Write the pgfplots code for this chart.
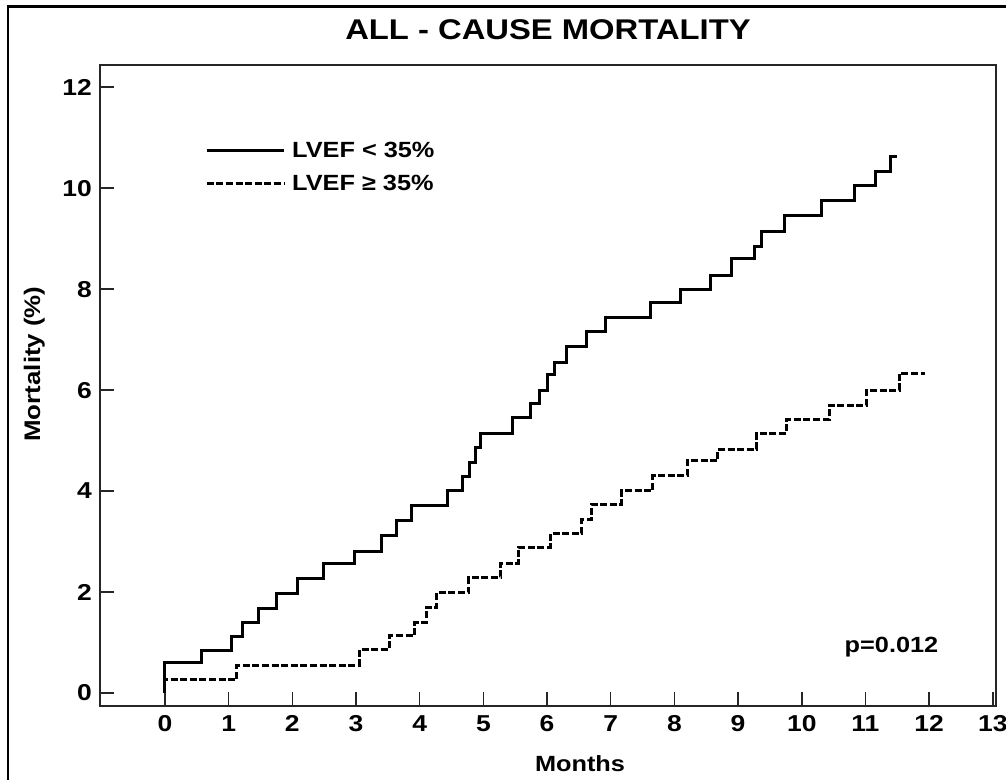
\documentclass[border=0pt]{standalone}
\usepackage{fontspec}
\setmainfont{Liberation Sans}[FakeStretch=1.15]
\usepackage{pgfplots}
\pgfplotsset{compat=1.18}
\begin{document}
\begin{tikzpicture}[x=1pt,y=1pt]
\path[use as bounding box] (0,0) rectangle (1006,779);
\draw[line width=2.7pt] (8,-10) -- (8,772.3) -- (1020,772.3);
\begin{axis}[
  at={(100pt,73pt)}, anchor=south west,
  scale only axis, width=896pt, height=641pt,
  xmin=-1.02, xmax=13.05, ymin=-0.257, ymax=12.44,
  xtick={0,1,...,13}, ytick={0,2,...,12},
  tick align=inside, tick pos=left,
  major tick length=14pt,
  axis line style={line width=1.5pt, black!85},
  every tick/.append style={line width=1.5pt, black!85},
  /pgf/number format/assume math mode=true,
  ticklabel style={font=\fontsize{23}{23}\selectfont\bfseries, inner sep=0pt},
  xticklabel style={yshift=-9pt},
  yticklabel style={xshift=-8pt},
  legend cell align=left,
  legend image code/.code={\draw[#1] (0pt,0pt) -- (77pt,0pt);},
  legend style={at={(0.1172,0.8810)}, anchor=north west, draw=none, fill=none,
    inner sep=0pt, row sep=14pt, font=\fontsize{22}{22}\selectfont\bfseries,
    nodes={inner sep=1pt}, /tikz/column sep=6pt},
]
\addplot[const plot, line width=3pt, black] coordinates {
(0,0) (0,0.6) (0.58,0.85) (1.04,1.11) (1.22,1.39) (1.47,1.68) (1.75,1.97)
(2.08,2.26) (2.49,2.57) (2.98,2.80) (3.40,3.13) (3.64,3.41) (3.87,3.71)
(4.44,4.02) (4.68,4.28) (4.79,4.56) (4.87,4.86) (4.95,5.15) (5.46,5.46)
(5.74,5.74) (5.88,5.99) (6.00,6.30) (6.12,6.54) (6.31,6.87) (6.62,7.17)
(6.92,7.44) (7.62,7.73) (8.10,8.00) (8.57,8.28) (8.90,8.61) (9.25,8.85)
(9.37,9.15) (9.73,9.45) (10.31,9.75) (10.82,10.06) (11.15,10.34)
(11.39,10.63) (11.50,10.63)
};
\addlegendentry{LVEF < 35\%}
\addplot[const plot, line width=3pt, black, dash pattern=on 7pt off 2.6pt] coordinates {
(0,0) (0,0.27) (1.13,0.55) (3.05,0.86) (3.52,1.13) (3.92,1.39) (4.10,1.70)
(4.27,1.99) (4.77,2.29) (5.27,2.57) (5.55,2.89) (6.05,3.16) (6.54,3.43)
(6.70,3.74) (7.17,4.01) (7.66,4.30) (8.20,4.60) (8.68,4.83) (9.29,5.14)
(9.76,5.42) (10.43,5.70) (11.02,6.00) (11.53,6.33) (11.93,6.33)
};
\addlegendentry{LVEF ≥ 35\%}
\end{axis}
\node[anchor=base, font=\fontsize{28.5}{28.5}\selectfont\bfseries] at (548,739) {ALL - CAUSE MORTALITY};
\node[anchor=base, font=\fontsize{22}{22}\selectfont\bfseries] at (580,7.5) {Months};
\node[anchor=base, rotate=90, font=\fontsize{22.5}{22.5}\selectfont\bfseries] at (40,415) {Mortality (\%)};
\node[anchor=base, font=\fontsize{22}{22}\selectfont\bfseries] at (891.5,126.5) {p=0.012};
\end{tikzpicture}
\end{document}
